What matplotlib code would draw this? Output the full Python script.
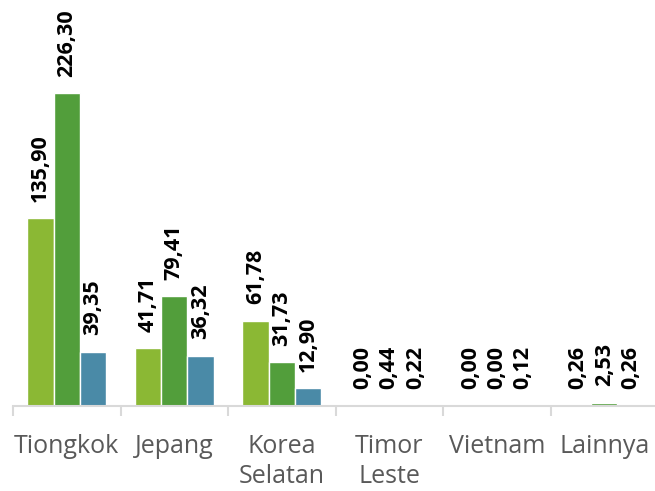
import numpy as np
import matplotlib
matplotlib.use('Agg')
import matplotlib.pyplot as plt

# data
categories = ['Tiongkok', 'Jepang', 'Korea\nSelatan', 'Timor\nLeste', 'Vietnam', 'Lainnya']
series_a = [135.90, 41.71, 61.78, 0.00, 0.00, 0.26]
series_b = [226.30, 79.41, 31.73, 0.44, 0.00, 2.53]
series_c = [39.35, 36.32, 12.90, 0.22, 0.12, 0.26]

colors = ['#8BB834', '#529E3B', '#4A8AA7']

plt.rcParams['font.family'] = ['Open Sans', 'DejaVu Sans']

fig = plt.figure(figsize=(6.55, 4.91), dpi=100)
ax = fig.add_axes([13 / 655, 85 / 491, 645 / 655, 406 / 491])

x = np.arange(len(categories))
width = 0.245
for i, (vals, col) in enumerate(zip([series_a, series_b, series_c], colors)):
    pos = x + (i - 1) * width
    ax.bar(pos, vals, width, color=col, edgecolor='white', linewidth=1.0)
    for xp, v in zip(pos, vals):
        ax.annotate(f'{v:.2f}'.replace('.', ','), (xp, v), xytext=(0, 12),
                    textcoords='offset points', rotation=90, ha='center', va='bottom',
                    fontsize=15.5, fontweight='bold', color='black')

ax.set_xlim(-0.5, len(categories) - 0.5)
ax.set_ylim(0, 294)

# only bottom axis, with ticks between categories
for s in ['top', 'right', 'left']:
    ax.spines[s].set_visible(False)
ax.spines['bottom'].set_color('#D9D9D9')
ax.spines['bottom'].set_linewidth(1.5)
ax.set_yticks([])
ax.set_xticks(np.arange(len(categories) + 1) - 0.5, minor=True)
ax.set_xticks(x)
ax.set_xticklabels(categories, fontsize=18, color='#595959', linespacing=1.25, va='top')
ax.tick_params(axis='x', which='major', length=0, pad=20)
ax.tick_params(axis='x', which='minor', length=7, width=1.5, color='#D9D9D9')

fig.savefig('out.png', dpi=100)
